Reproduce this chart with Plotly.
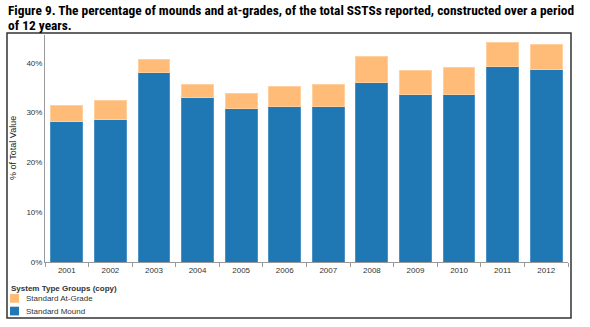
import plotly.graph_objects as go

years = ["2001", "2002", "2003", "2004", "2005", "2006", "2007", "2008", "2009", "2010", "2011", "2012"]
mound = [28.2, 28.6, 38.1, 33.1, 30.8, 31.2, 31.2, 36.0, 33.6, 33.6, 39.3, 38.6]
total = [31.4, 32.5, 40.6, 35.6, 33.9, 35.2, 35.6, 41.3, 38.5, 39.0, 44.0, 43.7]
at_grade = [round(t - m, 2) for t, m in zip(total, mound)]

series_names = ["Standard At-Grade", "Standard Mound"]
series_colors = {"Standard Mound": "#1f77b4", "Standard At-Grade": "#ffbb78"}
legend_title = "System Type Groups (copy)"
y_title = "% of Total Value"
title_lines = ["Figure 9. The percentage of mounds and at-grades, of the total SSTSs reported, constructed over a period",
               "of 12 years."]

W, H = 590, 327
L, R, T, B = 45, 22, 35, 65
pw, ph = W - L - R, H - T - B


def px_x(px):
    return (px - L) / pw


def px_y(py):
    return (H - B - py) / ph


fig = go.Figure()
fig.add_trace(go.Bar(x=years, y=mound, name="Standard Mound",
                     marker=dict(color=series_colors["Standard Mound"], line=dict(color="#4a92c6", width=1))))
fig.add_trace(go.Bar(x=years, y=at_grade, name="Standard At-Grade",
                     marker=dict(color=series_colors["Standard At-Grade"], line=dict(color="#ffcf9e", width=1))))

title_font = dict(family="Liberation Sans Narrow, Roboto Condensed, Arial Narrow, sans-serif",
                  size=13.4, color="#000000")
shapes = [dict(type="rect", xref="paper", yref="paper", x0=px_x(7), x1=px_x(571), y0=px_y(318), y1=px_y(33),
               line=dict(color="#333333", width=1.5), fillcolor="rgba(0,0,0,0)", layer="below")]
annotations = [
    dict(text="<b>" + title_lines[0] + "</b>", xref="paper", yref="paper",
         x=px_x(6), y=px_y(10), xanchor="left", yanchor="middle", showarrow=False, font=title_font),
    dict(text="<b>" + title_lines[1] + "</b>", xref="paper", yref="paper",
         x=px_x(6), y=px_y(25), xanchor="left", yanchor="middle", showarrow=False, font=title_font),
    dict(text=y_title, xref="paper", yref="paper", x=px_x(13), y=px_y(148), textangle=-90,
         xanchor="center", yanchor="middle", showarrow=False,
         font=dict(family="Liberation Sans Narrow, Arial Narrow, sans-serif", size=9, color="#222222")),
    dict(text="<b>" + legend_title + "</b>", xref="paper", yref="paper",
         x=px_x(9), y=px_y(288), xanchor="left", yanchor="middle", showarrow=False,
         font=dict(size=8, color="#333333")),
]
for i, name in enumerate(series_names):
    top = 294 + i * 12.7
    shapes.append(dict(type="rect", xref="paper", yref="paper", x0=px_x(10), x1=px_x(19),
                       y0=px_y(top + 8.7), y1=px_y(top), line=dict(width=0),
                       fillcolor=series_colors[name]))
    annotations.append(dict(text=name, xref="paper", yref="paper", x=px_x(24), y=px_y(top + 4.5),
                            xanchor="left", yanchor="middle", showarrow=False,
                            font=dict(size=8, color="#333333")))

fig.update_layout(
    width=W, height=H,
    barmode="stack", bargap=0.27,
    plot_bgcolor="white", paper_bgcolor="white",
    margin=dict(l=L, r=R, t=T, b=B, autoexpand=False),
    font=dict(family="Arial, Liberation Sans, sans-serif", size=8, color="#333333"),
    showlegend=False,
    xaxis=dict(type="category", showline=True, linecolor="#999999", linewidth=1,
               ticks="outside", tickson="boundaries", ticklen=4, tickcolor="#999999",
               showgrid=False, tickfont=dict(size=8, color="#333333")),
    yaxis=dict(range=[0, 45.6], tickvals=[0, 10, 20, 30, 40], ticktext=["0%", "10%", "20%", "30%", "40%"],
               showline=True, linecolor="#999999", linewidth=1, showgrid=False, zeroline=False,
               ticks="", tickfont=dict(size=8, color="#333333")),
    annotations=annotations,
    shapes=shapes,
)

fig.write_html("out.html")
